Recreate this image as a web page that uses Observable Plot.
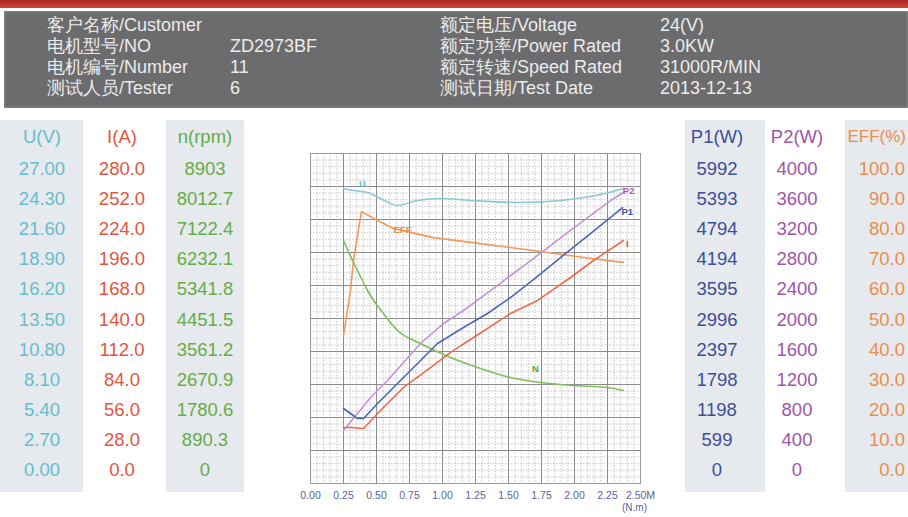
<!DOCTYPE html>
<html><head><meta charset="utf-8">
<script src="https://cdn.jsdelivr.net/npm/d3@7"></script>
<script src="https://cdn.jsdelivr.net/npm/@observablehq/plot@0.6"></script>
<style>
body{margin:0;width:908px;height:517px;position:relative;overflow:hidden;background:#fff;font-family:"Liberation Sans",Arial,sans-serif;}
.top{position:absolute;left:0;top:0;width:908px;height:8px;background:linear-gradient(#a92824,#d6413b);}
.hdr{position:absolute;left:4px;top:11px;width:904px;height:97px;background:#6c6c6e;box-shadow:inset 0 0 3px #9a9a9a;}
.ht{position:absolute;color:#ebebeb;font-size:18px;line-height:20px;white-space:nowrap;transform:translateY(-50%);}
.colbg{position:absolute;background:#e6e9ed;top:120px;height:372px;}
.cell{position:absolute;font-size:18.5px;line-height:20px;white-space:nowrap;transform:translate(-50%,-50%);}
.cellr{position:absolute;font-size:18.5px;line-height:20px;white-space:nowrap;transform:translate(-100%,-50%);}
#plot{position:absolute;left:280px;top:145px;}
.unit{position:absolute;font-size:10px;color:#5b5f9c;}
</style>
</head><body>
<div class="top"></div>
<div class="hdr"></div>
<div id="plot"></div>
<script>
// ---------- header info ----------
const infoLabelsL = ["客户名称/Customer","电机型号/NO","电机编号/Number","测试人员/Tester"];
const infoValuesL = ["","ZD2973BF","11","6"];
const infoLabelsR = ["额定电压/Voltage","额定功率/Power Rated","额定转速/Speed Rated","测试日期/Test Date"];
const infoValuesR = ["24(V)","3.0KW","31000R/MIN","2013-12-13"];

// ---------- side scale tick labels ----------
const uTicks   = ["27.00","24.30","21.60","18.90","16.20","13.50","10.80","8.10","5.40","2.70","0.00"];
const iTicks   = ["280.0","252.0","224.0","196.0","168.0","140.0","112.0","84.0","56.0","28.0","0.0"];
const nTicks   = ["8903","8012.7","7122.4","6232.1","5341.8","4451.5","3561.2","2670.9","1780.6","890.3","0"];
const p1Ticks  = ["5992","5393","4794","4194","3595","2996","2397","1798","1198","599","0"];
const p2Ticks  = ["4000","3600","3200","2800","2400","2000","1600","1200","800","400","0"];
const effTicks = ["100.0","90.0","80.0","70.0","60.0","50.0","40.0","30.0","20.0","10.0","0.0"];

// full-scale values of each axis
const uMax = 27, iMax = 280, nMax = 8903, p1Max = 5992, p2Max = 4000, effMax = 100;

// x axis ticks (torque, N.m)
const xTicks = [0,0.25,0.5,0.75,1,1.25,1.5,1.75,2,2.25,2.5];

// ---------- curves (torque N.m vs value) ----------
const uX   = [0.25,0.326,0.432,0.53,0.659,0.81,0.985,1.212,1.591,1.894,2.197,2.371];
const uV   = [24.14,23.97,23.81,23.32,22.75,23.16,23.32,23.16,22.99,23.16,23.65,24.14];

const effX = [0.25,0.303,0.326,0.356,0.386,0.508,0.629,0.758,0.932,1.288,1.689,2.068,2.371];
const effV = [44.8,58.5,67.6,75.2,82.4,79.7,77.3,76.1,74.5,72.7,70.6,68.5,67.0];

const nX   = [0.25,0.326,0.394,0.432,0.553,0.659,0.833,1.061,1.265,1.515,1.742,1.992,2.25,2.371];
const nV   = [6556,5962,5477,5207,4586,4128,3777,3399,3130,2860,2725,2644,2590,2509];

const p2X  = [0.25,0.356,0.455,0.583,0.705,0.833,1.008,1.159,1.364,1.689,1.97,2.273,2.371];
const p2V  = [642,848,1042,1248,1467,1697,1939,2097,2339,2727,3067,3430,3527];

const p1X  = [0.25,0.356,0.402,0.508,0.659,0.811,0.962,1.159,1.341,1.515,1.689,1.894,2.121,2.273,2.364];
const p1V  = [1362,1180,1180,1453,1816,2179,2542,2833,3087,3377,3704,4103,4539,4830,5011];

const iX   = [0.25,0.303,0.402,0.53,0.705,0.909,1.061,1.235,1.515,1.72,1.97,2.144,2.371];
const iV   = [47.5,47.5,46.7,61.9,81.5,98.4,111.2,123.9,144.2,155.3,174.8,189.2,206.2];

// curve labels: [name, x, value, full scale, colour]
const curveLabels = [
  ["U",   0.394, 24.5,  uMax,  "#5fb9c8"],
  ["EFF", 0.697, 76.7,  effMax,"#ec8a45"],
  ["N",   1.705, 3101,  nMax,  "#5aa840"],
  ["P2",  2.41,  3552,  p2Max, "#a65bb0"],
  ["P1",  2.40,  4938,  p1Max, "#3d57a8"],
  ["I",   2.40,  203.6, iMax,  "#e2503c"]
];

// ---------- build header ----------
const rowY = [25,46,67,88];
function addDiv(cls, text, left, top, color){
  const d = document.createElement("div");
  d.className = cls; d.textContent = text;
  d.style.left = left + "px"; d.style.top = top + "px";
  if (color) d.style.color = color;
  document.body.appendChild(d);
  return d;
}
rowY.forEach((y,i)=>{
  addDiv("ht", infoLabelsL[i], 47, y);
  addDiv("ht", infoValuesL[i], 230, y);
  addDiv("ht", infoLabelsR[i], 440, y);
  addDiv("ht", infoValuesR[i], 660, y);
});

// column backgrounds
[[0,83],[166,78],[685,80],[845,63]].forEach(([l,w])=>{
  const d=document.createElement("div"); d.className="colbg";
  d.style.left=l+"px"; d.style.width=w+"px"; document.body.appendChild(d);
});

const headY = 137, row0 = 169, rowStep = 30.1;
const cols = [
  ["U(V)", uTicks, 42, "#66bdca"],
  ["I(A)", iTicks, 122, "#e2553f"],
  ["n(rpm)", nTicks, 205, "#64ad47"],
  ["P1(W)", p1Ticks, 717, "#3d4f98"],
  ["P2(W)", p2Ticks, 797, "#a055a8"]
];
cols.forEach(([h,t,x,c])=>{
  addDiv("cell", h, x, headY, c);
  t.forEach((s,i)=>addDiv("cell", s, x, row0 + i*rowStep, c));
});
const effHead = addDiv("cellr", "EFF(%)", 906, headY, "#ec8d4c");
effHead.style.fontSize = "17px";
effTicks.forEach((s,i)=>addDiv("cellr", s, 905, row0 + i*rowStep, "#ec8d4c"));

// ---------- plot ----------
const mk = (xs, vs, max) => xs.map((x,i)=>({x, y: vs[i]/max}));
const series = [
  [mk(uX,uV,uMax), "#86cbd4", "monotone-x"],
  [mk(effX,effV,effMax), "#f09a5c", "linear"],
  [mk(nX,nV,nMax), "#7fbf62", "monotone-x"],
  [mk(p2X,p2V,p2Max), "#c592d8", "linear"],
  [mk(p1X,p1V,p1Max), "#4d66b4", "linear"],
  [mk(iX,iV,iMax), "#ef6a4c", "linear"]
];
const minorX = d3.range(0,51).map(i=>i*0.05);
const minorY = d3.range(0,51).map(i=>i/50);
const majorY = d3.range(0,11).map(i=>i/10);

const chart = Plot.plot({
  width: 400, height: 370,
  marginLeft: 30, marginRight: 40, marginTop: 8, marginBottom: 32,
  x: {domain:[0,2.5], label:null},
  y: {domain:[0,1], axis:null},
  style: {fontFamily:"Liberation Sans, Arial, sans-serif", background:"transparent"},
  marks: [
    Plot.ruleX(minorX, {stroke:"#b8b8b8", strokeWidth:0.8, strokeDasharray:"1.5,1.5"}),
    Plot.ruleY(minorY, {stroke:"#b8b8b8", strokeWidth:0.8, strokeDasharray:"1.5,1.5"}),
    Plot.ruleX(xTicks, {stroke:"#8c8c8c", strokeWidth:1}),
    Plot.ruleY(majorY, {stroke:"#8c8c8c", strokeWidth:1}),
    Plot.frame({stroke:"#9a9a9a"}),
    ...series.map(([d,c,cv])=>Plot.line(d,{x:"x",y:"y",stroke:c,strokeWidth:1.6,curve:cv,strokeLinejoin:"round"})),
    Plot.text(curveLabels, {x:d=>d[1], y:d=>d[2]/d[3], text:d=>d[0], fill:d=>d[4], fontSize:9.5, fontWeight:"bold"}),
    Plot.axisX({ticks:xTicks, tickSize:0, tickPadding:8, fontSize:10.5, fill:"#5b5f9c", label:null,
      tickFormat:d=> d===2.5 ? "2.50M" : d3.format(".2f")(d)})
  ]
});
document.getElementById("plot").appendChild(chart);
addDiv("unit","(N.m)",622,502);
</script>
</body></html>
